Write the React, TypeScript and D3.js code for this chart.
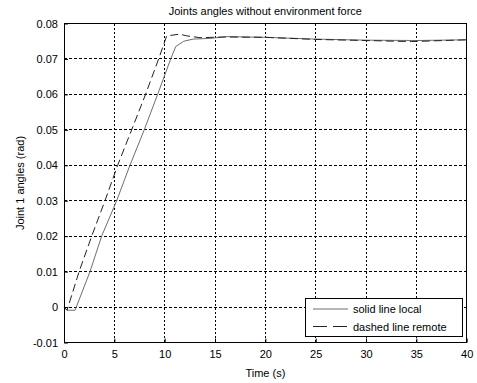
import React, { useEffect, useRef } from "react";
import * as d3 from "d3";

// time samples (s) and joint angle (rad)
const timeLocal = [0, 0.3, 1.1, 2.58, 3.74, 5.23, 6.55, 7.97, 9.3, 10.6, 11.1, 11.9, 12.84, 14.5, 16.2, 20, 25, 30, 35, 40];
const angleLocal = [0, -0.0009, -0.0009, 0.01, 0.02, 0.03, 0.04, 0.05, 0.06, 0.07, 0.0735, 0.0750, 0.0756, 0.0758, 0.0763, 0.0761, 0.0756, 0.0753, 0.0752, 0.0754];

const timeRemote = [0, 0.3, 1.5, 2.75, 4.07, 5.33, 6.72, 8.1, 9.4, 10.2, 11.5, 12.2, 13.5, 16, 20, 25, 30, 34.5, 40];
const angleRemote = [0, -0.0009, 0.01, 0.02, 0.03, 0.04, 0.05, 0.06, 0.07, 0.0765, 0.0770, 0.0765, 0.0760, 0.0762, 0.0761, 0.0755, 0.0752, 0.0749, 0.0754];

const xTicks = [0, 5, 10, 15, 20, 25, 30, 35, 40];
const yTicks = [-0.01, 0, 0.01, 0.02, 0.03, 0.04, 0.05, 0.06, 0.07, 0.08];
const yTickLabels = ["-0.01", "0", "0.01", "0.02", "0.03", "0.04", "0.05", "0.06", "0.07", "0.08"];

const seriesNames = ["solid line local", "dashed line remote"];

const App = () => {
  const ref = useRef<SVGSVGElement>(null);

  useEffect(() => {
    const width = 477;
    const height = 383;
    const margin = { top: 23.5, right: 10.3, bottom: 40.5, left: 64 };
    const innerWidth = width - margin.left - margin.right;
    const innerHeight = height - margin.top - margin.bottom;
    const font = "'Liberation Sans', Arial, sans-serif";

    const svg = d3.select(ref.current);
    svg.selectAll("*").remove();

    svg.append("rect").attr("width", width).attr("height", height).attr("fill", "#fff");

    const g = svg.append("g").attr("transform", `translate(${margin.left}, ${margin.top})`);

    const xScale = d3.scaleLinear().domain([0, 40]).range([0, innerWidth]);
    const yScale = d3.scaleLinear().domain([-0.01, 0.08]).range([innerHeight, 0]);

    // grid
    g.append("g")
      .selectAll("line")
      .data(xTicks.slice(1, -1))
      .enter()
      .append("line")
      .attr("x1", d => xScale(d)).attr("x2", d => xScale(d))
      .attr("y1", 0).attr("y2", innerHeight)
      .attr("stroke", "#000")
      .attr("stroke-dasharray", "2,2")
      .attr("shape-rendering", "crispEdges");

    g.append("g")
      .selectAll("line")
      .data(yTicks.slice(1, -1))
      .enter()
      .append("line")
      .attr("x1", 0).attr("x2", innerWidth)
      .attr("y1", d => yScale(d)).attr("y2", d => yScale(d))
      .attr("stroke", "#000")
      .attr("stroke-dasharray", "3,2")
      .attr("shape-rendering", "crispEdges");

    // axes, ticks pointing inward
    const xAxis = d3.axisBottom(xScale).tickValues(xTicks).tickSizeInner(-4).tickSizeOuter(0).tickPadding(8);
    const yAxis = d3.axisLeft(yScale)
      .tickValues(yTicks)
      .tickSizeInner(-4)
      .tickSizeOuter(0)
      .tickPadding(6)
      .tickFormat((d, i) => yTickLabels[i]);

    const xg = g.append("g").attr("transform", `translate(0, ${innerHeight})`).call(xAxis);
    const yg = g.append("g").call(yAxis);
    [xg, yg].forEach(a => {
      a.select(".domain").remove();
      a.selectAll("text").attr("font-family", font).attr("font-size", "11px").attr("fill", "#000");
      a.selectAll("line").attr("stroke", "#000");
    });

    // lines
    const line = d3.line<[number, number]>()
      .x(d => xScale(d[0]))
      .y(d => yScale(d[1]));

    const localPts = timeLocal.map((t, i) => [t, angleLocal[i]] as [number, number]);
    const remotePts = timeRemote.map((t, i) => [t, angleRemote[i]] as [number, number]);

    g.append("path")
      .datum(localPts)
      .attr("d", line)
      .attr("fill", "none")
      .attr("stroke", "#6e6e6e")
      .attr("stroke-width", 1);

    g.append("path")
      .datum(remotePts)
      .attr("d", line)
      .attr("fill", "none")
      .attr("stroke", "#222")
      .attr("stroke-width", 1)
      .attr("stroke-dasharray", "8,4");

    // frame
    g.append("rect")
      .attr("width", innerWidth)
      .attr("height", innerHeight)
      .attr("fill", "none")
      .attr("stroke", "#000")
      .attr("shape-rendering", "crispEdges");

    // legend
    const legend = svg.append("g").attr("transform", "translate(305, 298)");
    legend.append("rect")
      .attr("width", 157)
      .attr("height", 38.5)
      .attr("fill", "#fff")
      .attr("stroke", "#000")
      .attr("shape-rendering", "crispEdges");
    seriesNames.forEach((name, i) => {
      const y = 11 + i * 17.5;
      legend.append("line")
        .attr("x1", 8).attr("x2", 43)
        .attr("y1", y).attr("y2", y)
        .attr("stroke", i === 0 ? "#6e6e6e" : "#222")
        .attr("stroke-dasharray", i === 0 ? null : "14,6");
      legend.append("text")
        .attr("x", 48)
        .attr("y", y + 4)
        .attr("font-family", font)
        .attr("font-size", "11px")
        .text(name);
    });

    // title and labels
    svg.append("text")
      .attr("x", margin.left + innerWidth / 2)
      .attr("y", 14.5)
      .attr("text-anchor", "middle")
      .attr("font-family", font)
      .attr("font-size", "11px")
      .text("Joints angles without environment force");

    svg.append("text")
      .attr("x", margin.left + innerWidth / 2)
      .attr("y", 377)
      .attr("text-anchor", "middle")
      .attr("font-family", font)
      .attr("font-size", "11px")
      .text("Time (s)");

    svg.append("text")
      .attr("transform", `translate(23.5, ${margin.top + innerHeight / 2}) rotate(-90)`)
      .attr("text-anchor", "middle")
      .attr("font-family", font)
      .attr("font-size", "11px")
      .text("Joint 1 angles (rad)");
  }, []);

  return (
    <svg ref={ref} width={477} height={383} style={{ position: "absolute", left: 0, top: 0 }} />
  );
};

export default App;
